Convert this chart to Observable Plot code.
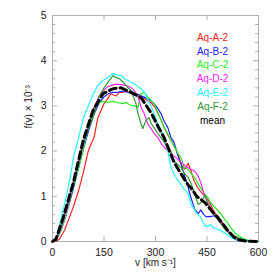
<!DOCTYPE html>
<html>
<head>
<meta charset="utf-8">
<script src="https://cdn.jsdelivr.net/npm/d3@7"></script>
<script src="https://cdn.jsdelivr.net/npm/@observablehq/plot@0.6"></script>
<style>
  html, body { margin: 0; padding: 0; background: #fff; }
  #chart svg { display: block; }
</style>
</head>
<body>
<div id="chart"></div>
<script>
// ---- data (v in km/s, f(v) x 1e-3) ----
const seriesNames = ["Aq-A-2", "Aq-B-2", "Aq-C-2", "Aq-D-2", "Aq-E-2", "Aq-F-2", "mean"];
const seriesColors = ["#ff2222", "#2222ff", "#22ee22", "#ff22ff", "#22ffff", "#339933", "#000000"];

const vA = [0,10,20,35,50,60,75,89,104,112,121,132,150,161,170,185,195,205,215,229,240,255,270,287,300,307,316,325,340,355,365,375,385,390,395,404,412,422,432,444,455,468,482,492,505,518,532,545,560,580,600];
const fA = [0,0,0.05,0.25,0.55,0.75,1.1,1.5,2.0,2.15,2.3,2.74,3.05,3.16,3.27,3.22,3.3,3.3,3.33,3.27,3.25,3.2,3.15,3.07,2.95,2.83,2.7,2.52,2.3,2.1,1.95,1.7,1.6,1.65,1.73,1.55,1.35,1.2,1.1,1.0,0.9,0.7,0.52,0.45,0.3,0.18,0.09,0.04,0.01,0,0];

const vB = [0,10,25,40,60,75,90,105,120,135,150,165,175,190,205,220,235,250,265,280,296,306,316,326,336,345,354,365,375,385,395,404,415,425,432,440,447,460,470,482,492,500,511,520,531,540,560,600];
const fB = [0,0.02,0.25,0.6,1.15,1.6,2.05,2.45,2.8,3.05,3.2,3.28,3.3,3.3,3.33,3.3,3.28,3.25,3.2,3.15,3.05,2.95,2.83,2.65,2.52,2.3,2.2,1.9,1.7,1.45,1.2,0.95,0.7,0.62,0.7,0.6,0.55,0.55,0.57,0.5,0.4,0.32,0.22,0.15,0.06,0.02,0,0];

const vC = [0,10,25,40,60,75,90,100,112,122,132,145,160,175,190,205,214,225,238,249,258,267,278,287,296,310,325,335,345,355,365,374,383,395,404,415,424,438,453,462,476,490,500,511,520,530,540,549,570,600];
const fC = [0,0.02,0.25,0.6,1.2,1.6,2.05,2.4,2.7,2.9,3.05,3.1,3.08,3.1,3.07,3.05,3.08,3.02,3.0,2.97,3.27,3.3,3.2,3.12,3.05,2.8,2.52,2.4,2.23,2.1,1.95,1.86,1.64,1.6,1.5,1.4,1.28,1.1,0.97,0.84,0.73,0.62,0.5,0.4,0.3,0.2,0.14,0.09,0.02,0];

const vD = [0,10,25,40,60,75,90,105,120,135,150,160,170,185,200,215,230,240,249,258,267,278,287,296,307,318,330,345,360,375,390,404,415,424,432,441,453,463,473,488,502,515,531,545,560,600];
const fD = [0,0.02,0.3,0.65,1.25,1.7,2.15,2.6,2.95,3.2,3.35,3.42,3.45,3.48,3.47,3.45,3.4,3.32,3.2,2.97,2.83,2.6,2.5,2.39,2.3,2.15,2.05,1.95,1.85,1.75,1.65,1.6,1.55,1.45,1.3,1.06,0.85,0.72,0.57,0.42,0.3,0.2,0.09,0.03,0,0];

const vE = [0,10,25,40,51,62,74,83,93,103,115,125,132,145,155,165,176,190,200,210,220,234,245,258,268,278,287,296,306,316,325,336,345,354,365,375,386,395,404,418,432,444,452,459,468,480,491,505,520,535,550,600];
const fE = [0,0.05,0.5,1.0,1.4,1.9,2.23,2.52,2.8,2.97,3.2,3.35,3.45,3.55,3.6,3.65,3.72,3.68,3.67,3.6,3.56,3.5,3.45,3.38,3.3,3.12,3.0,2.83,2.62,2.45,2.23,2.0,1.64,1.5,1.35,1.25,1.13,1.06,0.82,0.65,0.53,0.35,0.33,0.38,0.31,0.27,0.24,0.17,0.09,0.04,0.01,0];

const vF = [0,10,25,40,60,75,90,105,118,135,150,165,176,185,195,209,220,229,236,243,249,258,263,272,281,288,296,306,316,326,336,345,354,365,374,385,395,404,415,424,432,444,453,463,473,488,502,520,540,560,600];
const fF = [0,0.03,0.35,0.75,1.3,1.75,2.2,2.5,2.74,3.2,3.4,3.56,3.67,3.63,3.6,3.5,3.4,3.34,3.2,3.05,2.83,2.6,2.5,2.68,2.74,2.6,2.52,2.4,2.3,2.2,2.08,2.0,1.79,1.7,1.64,1.5,1.42,1.28,1.04,0.82,0.86,1.02,0.82,0.7,0.57,0.42,0.27,0.15,0.09,0.02,0];

const vMean = [0,10,30,60,90,118,147,176,200,229,258,287,307,325,354,374,395,403,420,444,470,482,500,511,528,540,563,600];
const fMean = [0,0.05,0.5,1.28,2.25,2.9,3.27,3.38,3.4,3.3,3.18,2.85,2.55,2.3,1.75,1.5,1.25,1.19,1.0,0.86,0.62,0.53,0.35,0.24,0.1,0.04,0.01,0];

const xTicks = [0, 150, 300, 450, 600];
const yTicks = [0, 1, 2, 3, 4, 5];
const yMinor = [0.2,0.4,0.6,0.8,1.2,1.4,1.6,1.8,2.2,2.4,2.6,2.8,3.2,3.4,3.6,3.8,4.2,4.4,4.6,4.8];
const xLabel = "v [km s\u207B\u00B9]";
const yLabel = "f(v) \u00D7 10\u207B\u00B3";

// ---- build table ----
const vs = [vA, vB, vC, vD, vE, vF, vMean];
const fs = [fA, fB, fC, fD, fE, fF, fMean];
const rows = [];
seriesNames.forEach((name, i) => {
  vs[i].forEach((v, j) => rows.push({series: name, v, f: fs[i][j]}));
});

// ---- layout ----
const W = 274, H = 274;
const mL = 52, mR = 16, mT = 15, mB = 33;
const frameW = W - mL - mR, frameH = H - mT - mB;
const gray = "#b0b0b0";
const font = "'Liberation Sans', Arial, Helvetica, sans-serif";

const marks = [
  Plot.frame({stroke: gray}),
  Plot.ruleY(yTicks, {stroke: gray, insetRight: frameW - 5}),
  Plot.ruleY(yTicks, {stroke: gray, insetLeft: frameW - 5}),
  Plot.ruleY(yMinor, {stroke: gray, insetRight: frameW - 3}),
  Plot.ruleY(yMinor, {stroke: gray, insetLeft: frameW - 3}),
  Plot.ruleX(xTicks, {stroke: gray, insetTop: frameH - 5}),
  Plot.ruleX(xTicks, {stroke: gray, insetBottom: frameH - 5}),
  Plot.axisX({ticks: xTicks, tickFormat: "d", tickSize: 0, tickPadding: 7, label: null, fill: "#222", fontSize: 10.5}),
  Plot.axisY({ticks: yTicks, tickFormat: "d", tickSize: 0, tickPadding: 6, label: null, fill: "#222", fontSize: 10.5}),
  Plot.lineY(rows.filter(d => d.series !== "mean"), {x: "v", y: "f", stroke: "series", strokeWidth: 1.2}),
  Plot.lineY(rows.filter(d => d.series === "mean"), {x: "v", y: "f", stroke: "series", strokeWidth: 3, strokeDasharray: "7,4"}),
  Plot.text([xLabel], {text: d => d, frameAnchor: "bottom", dy: 21, lineAnchor: "middle", fill: "#222", fontSize: 10}),
  Plot.text([yLabel], {text: d => d, frameAnchor: "left", dx: -24, rotate: -90, lineAnchor: "middle", fill: "#222", fontSize: 10})
];
seriesNames.forEach((name, i) => {
  marks.push(Plot.text([name], {
    text: d => d, frameAnchor: "top-right", textAnchor: "middle", lineAnchor: "middle",
    dx: -46, dy: 22 + i * 13.8, fill: seriesColors[i], fontSize: 10
  }));
});

const chart = Plot.plot({
  width: W, height: H,
  marginLeft: mL, marginRight: mR, marginTop: mT, marginBottom: mB,
  style: {fontFamily: font, fontSize: "10px", background: "#fff"},
  x: {domain: [0, 600]},
  y: {domain: [0, 5]},
  color: {domain: seriesNames, range: seriesColors},
  marks
});
document.getElementById("chart").appendChild(chart);
</script>
</body>
</html>
